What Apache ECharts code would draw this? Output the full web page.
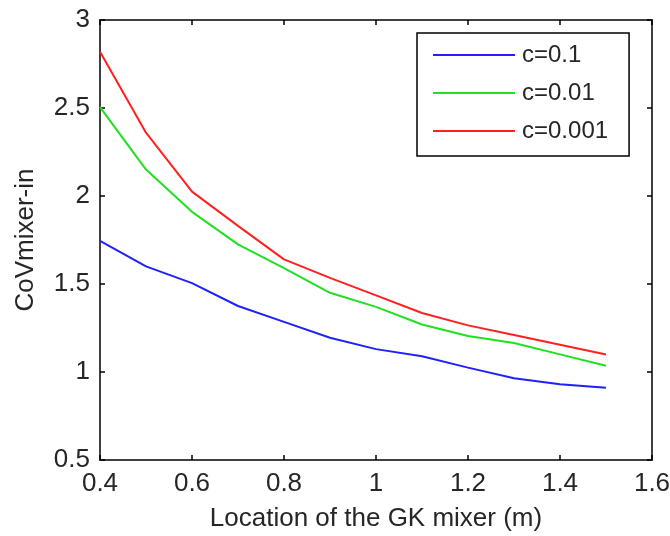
<!DOCTYPE html>
<html>
<head>
<meta charset="utf-8">
<script src="https://cdn.jsdelivr.net/npm/echarts@6/dist/echarts.min.js"></script>
<style>
  html, body { margin: 0; padding: 0; background: #fff; }
  #chart { width: 670px; height: 536px; }
</style>
</head>
<body>
<div id="chart"></div>
<script>
// x 位置 (m)
const locations = [0.4, 0.5, 0.6, 0.7, 0.8, 0.9, 1.0, 1.1, 1.2, 1.3, 1.4, 1.5]
// 三条曲线
const cov01 = [1.745, 1.6, 1.505, 1.375, 1.285, 1.195, 1.13, 1.09, 1.025, 0.965, 0.93, 0.91]
const cov001 = [2.505, 2.15, 1.91, 1.725, 1.59, 1.45, 1.37, 1.27, 1.205, 1.165, 1.1, 1.035]
const cov0001 = [2.82, 2.36, 2.025, 1.83, 1.64, 1.535, 1.435, 1.335, 1.265, 1.21, 1.155, 1.1]
const seriesNames = ['c=0.1', 'c=0.01', 'c=0.001']
const seriesColors = ['#2020ff', '#20e020', '#ff2020']

const font = 'Liberation Sans, Arial, sans-serif'
const textColor = '#262626'

const pair = (ys) => locations.map((x, i) => [x, ys[i]])

// 坐标轴通用样式
const axisBase = {
  type: 'value',
  axisLine: { show: true, lineStyle: { color: '#000', width: 1.5 } },
  axisTick: { show: true, inside: true, length: 5, lineStyle: { color: '#000', width: 1.5 } },
  splitLine: { show: false }
}

const chart = echarts.init(document.getElementById('chart'))
chart.setOption({
  animation: false,
  backgroundColor: '#fff',
  grid: { left: 100, right: 18, top: 20, bottom: 76, outerBoundsMode: 'none', containLabel: false },
  legend: {
    orient: 'vertical',
    left: 417,
    top: 33,
    padding: [10, 21, 13, 16],
    borderColor: '#000',
    borderWidth: 1.5,
    icon: 'rect',
    itemWidth: 82,
    itemHeight: 2,
    itemGap: 14,
    textStyle: { fontFamily: font, fontSize: 24, color: textColor, lineHeight: 24, padding: [0, 0, 0, 2] },
    data: seriesNames
  },
  xAxis: [
    {
      ...axisBase,
      min: 0.4,
      max: 1.6,
      interval: 0.2,
      name: 'Location of the GK mixer (m)',
      nameLocation: 'middle',
      nameGap: 46,
      nameTextStyle: { fontFamily: font, fontSize: 26, color: textColor },
      axisLabel: { fontFamily: font, fontSize: 26, color: textColor, margin: 11, formatter: (v) => String(+v.toFixed(1)) }
    },
    {
      ...axisBase,
      position: 'top',
      min: 0.4,
      max: 1.6,
      interval: 0.2,
      axisLabel: { show: false }
    }
  ],
  yAxis: [
    {
      ...axisBase,
      min: 0.5,
      max: 3,
      interval: 0.5,
      name: 'CoVmixer-in',
      nameLocation: 'middle',
      nameGap: 61,
      nameTextStyle: { fontFamily: font, fontSize: 26, color: textColor },
      axisLabel: { fontFamily: font, fontSize: 26, color: textColor, margin: 10 }
    },
    {
      ...axisBase,
      position: 'right',
      min: 0.5,
      max: 3,
      interval: 0.5,
      axisLabel: { show: false }
    }
  ],
  series: [cov01, cov001, cov0001].map((ys, i) => ({
    type: 'line',
    name: seriesNames[i],
    data: pair(ys),
    showSymbol: false,
    symbol: 'none',
    color: seriesColors[i],
    lineStyle: { width: 2, color: seriesColors[i] }
  }))
})
</script>
</body>
</html>
